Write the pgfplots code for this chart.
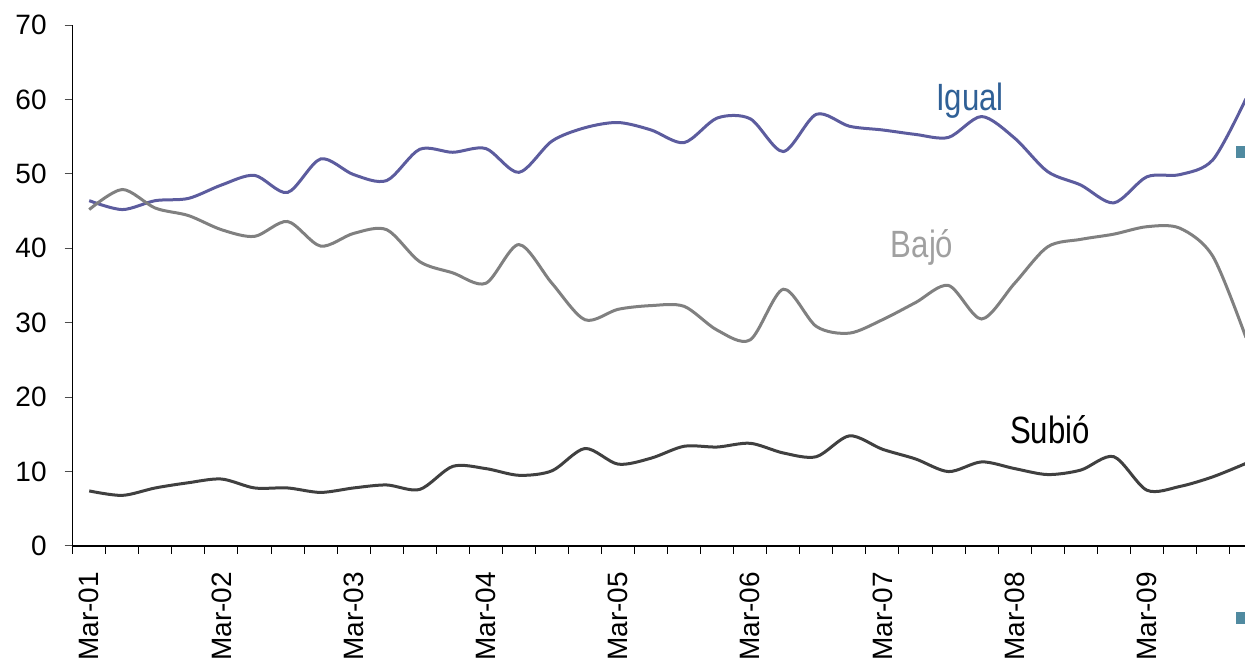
\documentclass[border=0pt]{standalone}
\usepackage{pgfplots}
\pgfplotsset{compat=1.18}
\usepackage{pgfplotstable}
\usepackage{fontspec}
\setmainfont{Liberation Sans}
\usepackage{graphicx}
\definecolor{igual}{RGB}{92,92,158}
\definecolor{bajo}{RGB}{128,128,128}
\definecolor{subio}{RGB}{64,64,64}
\definecolor{igualtxt}{RGB}{47,96,150}
\definecolor{bajotxt}{RGB}{160,160,160}
\definecolor{teal}{RGB}{80,138,160}
\pgfplotstableread{
i igual bajo subio
0 46.4 45.2 7.4
1 45.2 47.9 6.8
2 46.4 45.4 7.8
3 46.7 44.4 8.5
4 48.5 42.5 9.0
5 49.8 41.6 7.8
6 47.5 43.6 7.8
7 52.0 40.3 7.2
8 49.9 42.0 7.8
9 49.1 42.5 8.2
10 53.3 38.2 7.6
11 52.9 36.7 10.7
12 53.4 35.3 10.4
13 50.2 40.5 9.5
14 54.4 35.3 10.1
15 56.2 30.4 13.1
16 56.9 31.8 11.0
17 55.9 32.3 11.8
18 54.2 32.2 13.4
19 57.5 29.0 13.3
20 57.4 27.7 13.8
21 53.0 34.5 12.5
22 58.0 29.5 12.0
23 56.4 28.6 14.8
24 55.9 30.4 13.0
25 55.3 32.7 11.7
26 54.9 35.0 10.0
27 57.7 30.5 11.3
28 54.8 35.3 10.4
29 50.3 40.2 9.6
30 48.5 41.2 10.2
31 46.1 41.9 12.0
32 49.6 42.9 7.5
33 49.9 42.7 8.0
34 51.9 38.9 9.3
35 60.1 28.0 11.1
}\data
\pgfplotstableread{
x y
34.87 53.0
34.87 -9.7
}\marks
\begin{document}
\begin{tikzpicture}[x=1pt,y=1pt]
\path[use as bounding box] (0,0) rectangle (622.5,331.5);
\begin{axis}[
  at={(36.35pt,58.5pt)}, anchor=south west,
  scale only axis, width=594.9pt, height=260.5pt,
  xmin=-0.5, xmax=35.5, ymin=0, ymax=70,
  clip=false,
  axis x line=bottom, axis y line=left,
  axis line style={-, black, line width=0.7pt},
  tick align=outside,
  xtick={0,4,...,32},
  xticklabels={Mar-01,Mar-02,Mar-03,Mar-04,Mar-05,Mar-06,Mar-07,Mar-08,Mar-09},
  minor xtick={-0.5,0.5,...,34.6},
  major x tick style={draw=none},
  minor x tick style={black, line width=0.5pt},
  minor tick length=4pt,
  ytick={0,10,...,70},
  major tick length=4pt,
  ytick style={black!70, line width=0.5pt},
  xticklabel style={rotate=90, anchor=east, font=\fontsize{14}{14}\selectfont},
  xticklabel shift=5.5pt,
  yticklabel style={font=\fontsize{14}{14}\selectfont},
  yticklabel shift=5.5pt,
  /pgf/number format/assume math mode=true,
]
\addplot[igual, line width=1.5pt, smooth, tension=0.5] table[x=i, y=igual] {\data};
\addplot[bajo, line width=1.5pt, smooth, tension=0.5] table[x=i, y=bajo] {\data};
\addplot[subio, line width=1.5pt, smooth, tension=0.5] table[x=i, y=subio] {\data};
\addplot[only marks, mark=square*, mark size=2.75pt, color=teal, mark options={draw=teal, fill=teal}] table[x=x, y=y] {\marks};
\node[igualtxt, font=\fontsize{19}{19}\selectfont] at (axis cs:26.65,59.9) {\scalebox{0.82}[1]{Igual}};
\node[bajotxt, font=\fontsize{19}{19}\selectfont] at (axis cs:25.2,40.05) {\scalebox{0.82}[1]{Bajó}};
\node[black, font=\fontsize{19}{19}\selectfont] at (axis cs:29.07,15.6) {\scalebox{0.82}[1]{Subió}};
\end{axis}
\end{tikzpicture}
\end{document}
